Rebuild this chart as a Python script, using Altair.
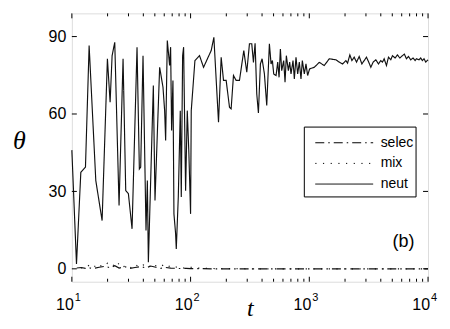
import altair as alt
import pandas as pd

# ---------------- data ----------------
neut_t = [10, 10.94, 11.9, 13.02, 13.98, 15.91, 17.98, 19.93, 21.0, 21.83, 22.98, 24.98, 27.0, 28.43,
          29.94, 32.14, 35.4, 37.03, 38.0, 39.76, 42.13, 43.25, 44.1, 48.57, 50.15, 54.89, 58.55, 60.47,
          61.65, 63.67, 66.6, 67.9, 69.23, 71.04, 72.42, 74.8, 75.78, 78.8, 81.9, 83.5, 85.7, 87.35,
          90.8, 93.8, 96.8, 100, 101.3, 108.8, 119, 128.6, 149.2, 157.1, 171.9, 181, 189.4, 199.4,
          212.7, 219.6, 229.8, 242, 258.1, 280.7, 297.4, 313.2, 327.6, 338.4, 349.5, 360.9, 372.7,
          387.4, 400.2, 418.7, 438, 461.2, 476.3, 488.8, 501.5, 524.7, 542, 556.2, 570.7, 585.5,
          608.6, 624.5, 640.8, 666.1, 683.5, 701.3, 729, 748, 772.7, 798, 824, 851, 873.5, 907.8,
          937.6, 968.3, 1006, 1102, 1213, 1337, 1473, 1675, 1787, 1906, 2033, 2100, 2196, 2283, 2389,
          2499, 2632, 2771, 2899, 3032, 3193, 3298, 3450, 3633, 3824, 4002, 4133, 4268, 4466, 4642,
          4857, 5016, 5281, 5526, 5779, 6085, 6325, 6575, 6834, 7152, 7479, 7778, 7980, 8404, 8680,
          8962, 9256, 9558, 10000]
neut_v = [46, 1.9, 37.4, 39.4, 86.5, 34.2, 18.7, 81.4, 64.6, 82.6, 87.8, 24.5, 81.4, 30.3,
          29.1, 15.5, 85.9, 38.7, 39.4, 82.6, 14.9, 34.2, 2.6, 71, 26.5, 78.1, 70.4, 61.3,
          49.7, 88.5, 78.8, 85.9, 53.6, 73, 21.3, 13.6, 7.7, 27.8, 61.3, 27.8, 82.6, 85.9,
          30.3, 61.3, 44.5, 21.3, 61.3, 80.7, 82.6, 78.1, 84.6, 89.7, 56.8, 82, 73, 73,
          62.6, 62, 74.9, 73, 73, 84.6, 76.2, 87.2, 87.2, 80, 87.4, 67.8, 60.4,
          79.4, 81.4, 75.5, 63.3, 87.2, 79.4, 80.7, 75.5, 74.9, 80.1, 74.2, 85.2, 76.8,
          80.7, 72.3, 82.6, 76.8, 80.1, 75.5, 80.7, 73.6, 82, 75.5, 80.1, 73.6, 80.7, 75.5,
          79.4, 74.9, 77.5, 78.1, 80, 78.8, 81.4, 81, 80.1, 79.4, 80.7, 79.7, 82.9, 80.7, 82,
          80.1, 82.3, 79.4, 80.7, 82, 79.7, 78.1, 80.1, 81, 79.4, 80.7, 80.1, 81.4, 78.8, 82,
          81, 82.6, 81.7, 82.9, 81.7, 82.6, 83.2, 81.4, 82.3, 81, 81.7, 80.7, 81.4, 81, 81.7,
          80.7, 81.4, 80.1, 81]

selec_t = [11, 12, 13, 14, 15, 17, 19, 21, 23, 25, 28, 31, 34, 38, 42, 46, 51, 56, 62, 68, 75, 83,
           92, 100, 120, 150, 200, 300, 500, 1000, 2000, 5000, 10000]
selec_v = [0.3, 0.5, 0.2, 0.4, 0.1, 0.6, 1.0, 0.4, 1.2, 0.3, 0.8, 0.2, 0.5, 0.9, 0.3, 1.1, 0.6, 0.2,
           0.5, 0.3, 0.2, 0.1, 0.2, 0.1, 0.1, 0.0, 0.0, 0.0, 0.0, 0.0, 0.0, 0.0, 0.0]

mix_t = [12, 13.5, 15, 16.5, 18, 20, 22, 24, 26, 28.5, 31, 34, 37, 40, 44, 48, 52, 57, 62, 68, 74, 81,
         89, 98, 110, 130, 160, 200, 300, 500, 1000, 3000, 10000]
mix_v = [0.2, 1.5, 0.3, 2.0, 0.8, 2.2, 1.0, 2.8, 0.5, 1.2, 0.3, 1.8, 0.6, 1.5, 0.4, 2.0, 0.9, 1.6, 0.4,
         1.3, 0.6, 0.9, 0.2, 0.7, 0.3, 0.2, 0.1, 0.1, 0.0, 0.0, 0.0, 0.0, 0.0]

series_names = ["selec", "mix", "neut"]
series_dash = [[9, 4, 1.5, 4], [1.2, 6.5], [1, 0]]
y_ticks = [0, 30, 60, 90]
x_major = [10, 100, 1000, 10000]
x_base = ["10", "10", "10", "10"]
x_exp = ["1", "2", "3", "4"]
x_minor = [m * d for d in (10, 100, 1000) for m in range(2, 10)]
panel_label = ["(b)"]
panel_label_t = [7700]
panel_label_v = [10.4]

# ---------------- build table ----------------
rows = []
for name, ts, vs in (("selec", selec_t, selec_v), ("mix", mix_t, mix_v), ("neut", neut_t, neut_v)):
    for t, v in zip(ts, vs):
        rows.append({"t": t, "v": v, "series": name})
df = pd.DataFrame(rows)

W, H = 357, 269
FONT = "Liberation Sans"

xscale = alt.Scale(type="log", domain=[10, 10000], nice=False)
yscale = alt.Scale(domain=[-5, 99], nice=False, zero=False)
dash_scale = alt.Scale(domain=series_names, range=series_dash)

lines = alt.Chart(df).mark_line(strokeWidth=1.15, color="#111").encode(
    x=alt.X("t:Q", scale=xscale,
            axis=alt.Axis(values=x_major, labels=False, ticks=False, domain=False,
                          grid=False, title="t", titleFont="Liberation Serif",
                          titleFontStyle="italic", titleFontWeight="normal", titleFontSize=24,
                          titleColor="black", titleY=34, titleBaseline="alphabetic")),
    y=alt.Y("v:Q", scale=yscale,
            axis=alt.Axis(values=y_ticks, ticks=False, domain=False, grid=False,
                          labelFontSize=16, labelFont=FONT, labelColor="black", labelPadding=6,
                          title="θ", titleFont="Liberation Serif", titleFontStyle="italic",
                          titleFontWeight="normal", titleFontSize=26, titleColor="black",
                          titleAngle=0, titleX=-53, titleY=127, titleAlign="center",
                          titleBaseline="middle")),
    strokeDash=alt.StrokeDash("series:N", scale=dash_scale, legend=None),
    order=alt.Order("t:Q"),
)

xt_major = pd.DataFrame({"t": x_major, "base": x_base, "exp": x_exp})
xt_minor = pd.DataFrame({"t": x_minor})
yt = pd.DataFrame({"v": y_ticks})


def xticks(data, length):
    bottom = alt.Chart(data).mark_rule(color="black", strokeWidth=1).encode(
        x=alt.X("t:Q", scale=xscale), y=alt.value(H), y2=alt.value(H - length))
    top = alt.Chart(data).mark_rule(color="black", strokeWidth=1).encode(
        x=alt.X("t:Q", scale=xscale), y=alt.value(0), y2=alt.value(length))
    return bottom + top


x_base_text = alt.Chart(xt_major).mark_text(
    font=FONT, fontSize=16, align="right", baseline="alphabetic", dx=2, color="black").encode(
    x=alt.X("t:Q", scale=xscale), y=alt.value(H + 28), text="base:N")
x_exp_text = alt.Chart(xt_major).mark_text(
    font=FONT, fontSize=11, align="left", baseline="alphabetic", dx=3, color="black").encode(
    x=alt.X("t:Q", scale=xscale), y=alt.value(H + 19), text="exp:N")

left_ticks = alt.Chart(yt).mark_rule(color="black", strokeWidth=1).encode(
    y=alt.Y("v:Q", scale=yscale), x=alt.value(0), x2=alt.value(5))
right_ticks = alt.Chart(yt).mark_rule(color="black", strokeWidth=1).encode(
    y=alt.Y("v:Q", scale=yscale), x=alt.value(W), x2=alt.value(W - 5))

label_df = pd.DataFrame({"t": panel_label_t, "v": panel_label_v, "txt": panel_label})
label = alt.Chart(label_df).mark_text(font=FONT, fontSize=18, align="right", baseline="middle",
                                      color="black").encode(
    x=alt.X("t:Q", scale=xscale), y=alt.Y("v:Q", scale=yscale), text="txt:N")

# ---------------- legend (drawn in pixel space of the plot) ----------------
LX0, LX1, LY0, LY1 = 233, 345, 114, 184
ROW0, ROWSTEP = 129.7, 20.7
leg_df = pd.DataFrame({"series": series_names, "row": [0, 1, 2]})
leg_df["py"] = ROW0 + ROWSTEP * leg_df["row"]

leg_box = alt.Chart(pd.DataFrame({"a": [0]})).mark_rect(
    fill="white", stroke="black", strokeWidth=1).encode(
    x=alt.value(LX0), x2=alt.value(LX1), y=alt.value(LY0), y2=alt.value(LY1))
leg_lines = alt.Chart(leg_df).mark_rule(color="black", strokeWidth=1).encode(
    x=alt.value(244), x2=alt.value(302), y=alt.Y("py:Q", scale=None),
    strokeDash=alt.StrokeDash("series:N", scale=dash_scale, legend=None))
leg_text = alt.Chart(leg_df).mark_text(font=FONT, fontSize=14, align="left", baseline="middle",
                                       color="black").encode(
    x=alt.value(309.5), y=alt.Y("py:Q", scale=None), text="series:N")

chart = alt.layer(
    lines, xticks(xt_major, 5), xticks(xt_minor, 3), left_ticks, right_ticks, label,
    x_base_text, x_exp_text, leg_box, leg_lines, leg_text
).resolve_scale(strokeDash="shared").properties(
    width=W, height=H,
    autosize=alt.AutoSizeParams(type="none"),
    padding={"left": 64, "top": 5, "right": 14, "bottom": 40},
).configure_view(stroke="black", strokeWidth=1).configure(background="white")

chart.save("out.html", embed_options={"renderer": "svg", "actions": False})
